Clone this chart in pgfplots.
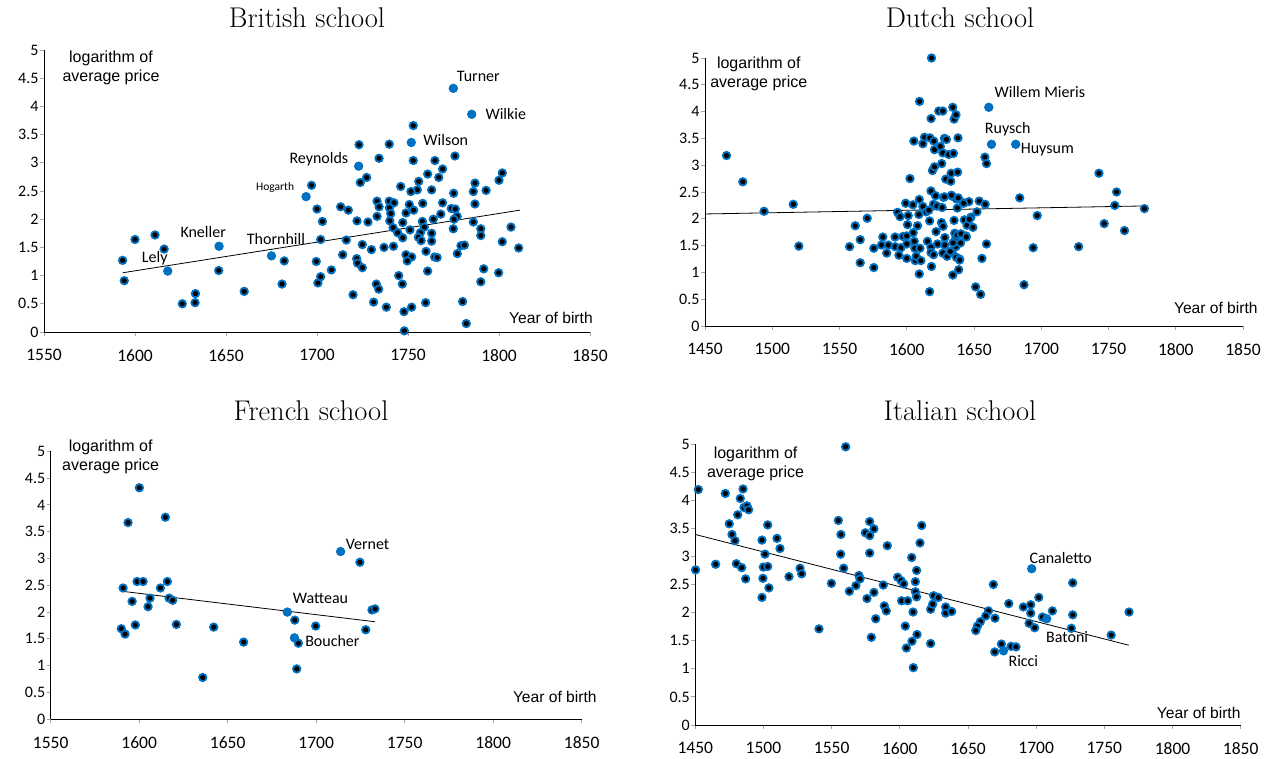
\documentclass[border=0pt]{standalone}
\usepackage{fontspec}
\usepackage{pgfplots}
\pgfplotsset{compat=1.18}
\newfontfamily\calibri{Carlito}
\newfontfamily\arial{Liberation Sans}
\definecolor{xlblue}{RGB}{0,112,192}

% dot with black centre, and plain blue dot for named painters
\pgfdeclareplotmark{dotc}{%
  \pgfpathcircle{\pgfpointorigin}{4.7pt}\pgfsetfillcolor{xlblue}\pgfusepathqfill
  \pgfpathcircle{\pgfpointorigin}{2.6pt}\pgfsetfillcolor{black}\pgfusepathqfill}
\pgfdeclareplotmark{dotb}{%
  \pgfpathcircle{\pgfpointorigin}{4.7pt}\pgfsetfillcolor{xlblue}\pgfusepathqfill}

\pgfplotsset{
  school/.style={
    scale only axis, anchor=south west,
    axis x line=bottom, axis y line=left,
    axis line style={-, line width=0.9pt, black},
    ymin=0, ymax=5, ytick={0,0.5,...,5}, xmax=1850, xtick distance=50,
    tick align=outside, major tick length=4pt,
    tick style={gray!70, line width=0.8pt},
    yticklabel style={font=\calibri\fontsize{16}{18}\selectfont, xshift=2pt},
    xticklabel style={font=\calibri\fontsize{17.5}{20}\selectfont, yshift=-10pt},
    scaled ticks=false,
    /pgf/number format/1000 sep={},
    /pgf/number format/assume math mode=true,
    clip=false,
  },
  reg/.style={black, line width=0.8pt, no marks},
}
\tikzset{
  lab/.style={anchor=west, inner sep=0pt, font=\calibri\fontsize{16}{19}\selectfont},
  ylab/.style={align=center, inner sep=0pt, font=\arial\fontsize{16}{19}\selectfont},
  xlab/.style={anchor=east, inner sep=0pt, font=\arial\fontsize{15.6}{18}\selectfont},
  ttl/.style={anchor=base, font=\fontsize{28.5}{34}\selectfont},
}

\begin{document}
\begin{tikzpicture}
\useasboundingbox (0,0) rectangle (1271pt,759pt);

\node[ttl] at (307pt,731pt) {British school};
\node[ttl] at (960pt,731pt) {Dutch school};
\node[ttl] at (311pt,338pt) {French school};
\node[ttl] at (960pt,338pt) {Italian school};

% British
\begin{axis}[school, at={(44pt,427pt)}, width=546pt, height=282pt, xmin=1550]
\addplot[only marks, mark=dotc] coordinates {
(1593.2,1.27)(1594.1,0.91)(1600,1.64)(1611,1.72)(1616,1.47)(1626,0.50)(1633.2,0.68)(1633,0.52)
(1646,1.09)(1660,0.72)(1680.8,0.85)(1682,1.26)(1697,2.60)(1700,2.18)(1699.6,1.25)(1700.5,0.87)
(1752.9,3.66)(1723.1,3.32)(1739.7,3.33)(1734.1,3.08)(1752.9,3.04)(1764.8,3.04)(1775.8,3.12)
(1760.8,2.80)(1769.0,2.89)(1766.9,2.74)(1801.8,2.82)(1800,2.69)(1727.3,2.74)(1723.8,2.65)
(1746,2.58)(1755.9,2.67)(1755.1,2.52)(1751.6,2.49)(1763,2.52)(1775.1,2.46)(1786.8,2.64)
(1785.9,2.49)(1792.9,2.51)(1786.8,2.27)(1733,2.32)(1734.1,2.22)(1739.7,2.32)(1742.3,2.29)
(1739.8,2.20)(1740.5,2.10)(1750.7,2.26)(1753.1,2.16)(1758.1,2.28)(1748.9,2.11)(1769,2.29)
(1773.8,2.19)(1776,2.18)(1768,2.09)(1777,2.05)(1775.3,2.00)(1774.9,1.83)(1713,2.22)
(1717.2,2.16)(1703,1.96)(1722,1.97)(1728,1.95)(1733,2.05)(1740,1.97)(1741.8,1.85)(1744.3,1.76)
(1747.1,1.94)(1751.1,1.81)(1757.9,1.96)(1759,1.86)(1756.8,1.76)(1755.7,1.68)(1757.2,1.62)
(1763,1.75)(1763,1.61)(1763.9,2.00)(1785.9,1.95)(1790,1.83)(1790,1.71)(1806.6,1.86)
(1801.8,1.60)(1810.8,1.49)(1747.1,1.67)(1702,1.64)(1716.1,1.63)(1724.9,1.55)(1729.9,1.46)
(1736.8,1.50)(1742,1.52)(1759.9,1.43)(1779.1,1.53)(1781,1.54)(1777.1,1.39)(1714.1,1.37)
(1721.8,1.30)(1722.3,1.22)(1724.9,1.14)(1748.9,1.37)(1752,1.33)(1749.6,1.26)(1764.6,1.33)
(1766,1.32)(1707.9,1.10)(1760.8,1.08)(1791.6,1.12)(1799.8,1.05)(1744.9,1.00)(1746.9,0.85)
(1732.6,0.85)(1733.9,0.76)(1702,0.98)(1790,0.89)(1719.8,0.66)(1731.1,0.53)(1738.1,0.44)
(1747.8,0.36)(1752,0.44)(1759.7,0.52)(1780,0.54)(1782,0.15)(1748,0.02)
};
\addplot[only marks, mark=dotb] coordinates {
(1774.9,4.32)(1785,3.86)(1751.8,3.36)(1722.9,2.94)(1694,2.40)(1646.2,1.52)(1675,1.35)(1618,1.08)
};
\addplot[reg] coordinates {(1593.2,1.05)(1811.5,2.16)};
\node[lab] at (axis cs:1776.8,4.54) {Turner};
\node[lab] at (axis cs:1792.5,3.86) {Wilkie};
\node[lab] at (axis cs:1758.4,3.40) {Wilson};
\node[lab] at (axis cs:1684.8,3.07) {Reynolds};
\node[lab, font=\calibri\fontsize{11.5}{13}\selectfont] at (axis cs:1666.5,2.56) {Hogarth};
\node[lab] at (axis cs:1624.9,1.77) {Kneller};
\node[lab] at (axis cs:1661.4,1.65) {Thornhill};
\node[lab] at (axis cs:1603.7,1.30) {Lely};
\node[ylab] at (axis cs:1586.8,4.69) {logarithm of\\average price};
\node[xlab] at (axis cs:1851.6,0.25) {Year of birth};
\end{axis}

% Dutch
\begin{axis}[school, at={(705pt,433pt)}, width=538pt, height=268pt, xmin=1450]
\addplot[only marks, mark=dotc] coordinates {
(1466.0,3.18)(1478.1,2.69)(1493.9,2.14)(1515.6,2.27)(1519.8,1.49)(1557.5,1.48)(1561.7,1.87)
(1565.4,1.61)(1565.4,1.18)(1570.6,2.01)(1575.5,1.45)(1575.5,1.09)(1582.2,1.66)(1581.2,1.51)
(1585.1,1.36)(1586.3,1.51)(1591.3,1.66)(1591.3,1.48)(1593.2,2.12)(1595,2.04)(1594.2,1.32)
(1595.7,1.46)(1597.2,1.67)(1599.2,2.29)(1600,1.68)(1600,1.53)(1600,1.26)(1600.6,1.89)
(1601.1,2.06)(1602.4,2.75)(1604.6,2.26)(1604.8,1.74)(1605.6,1.58)(1606,1.45)(1606.3,1.22)
(1607,1.30)(1608,1.87)(1609,2.08)(1609.5,4.19)(1609.3,0.97)(1609.3,2.36)(1609.8,1.45)
(1610.5,1.22)(1612,2.23)(1605.3,3.45)(1613.2,3.52)(1612,3.40)(1614.4,2.13)(1615.4,1.58)
(1616.4,2.16)(1617,1.96)(1618.4,5.00)(1618.1,3.87)(1617.2,3.51)(1618,2.52)(1617,0.64)
(1618,1.47)(1618,1.37)(1618.4,1.11)(1619.1,2.90)(1620.1,3.45)(1620.6,3.29)(1620.6,2.97)
(1619.9,2.27)(1619.9,1.33)(1621.4,2.43)(1622.4,2.24)(1621.8,1.76)(1622.9,1.53)(1623.8,4.01)
(1625,3.35)(1626,3.03)(1626.8,4.01)(1626.8,3.23)(1626.3,2.21)(1625.8,1.93)(1627,1.86)
(1626.8,1.36)(1627.3,2.40)(1628,3.50)(1629,2.74)(1628.3,1.65)(1628.3,1.51)(1631.2,3.20)
(1632.7,2.70)(1633,2.85)(1633.9,2.42)(1633.7,1.37)(1634.2,0.95)(1634.2,4.08)(1635.2,3.86)
(1635.2,1.97)(1634.7,3.22)(1635.7,1.73)(1636.1,1.61)(1636.6,3.94)(1636.9,2.37)(1636.9,1.28)
(1638.1,3.51)(1637.8,2.87)(1638.6,1.05)(1637.6,2.20)(1636.6,1.48)
(1658.1,3.15)(1659.3,3.03)(1742.9,2.85)(1756,2.50)(1754.7,2.25)(1776.7,2.19)(1746.8,1.91)
(1761.9,1.78)(1727.8,1.48)(1694,1.46)(1697,2.06)(1684,2.39)(1687.2,0.77)(1659.3,1.53)
(1655.9,1.26)(1651.2,0.73)(1654.9,0.59)(1639.3,1.25)(1640,1.55)(1644,1.68)(1642.8,1.98)
(1644.8,1.88)(1647.7,2.03)(1649.2,1.84)(1652.2,2.13)(1653.9,2.33)(1658.3,2.27)(1646.2,2.32)
(1641.8,2.30)(1629.5,3.48)(1634.4,1.55)(1630,1.30)(1633.2,2.44)(1638.3,2.39)(1642.3,2.29)
(1628,2.41)(1646.5,1.99)(1637.4,1.70)(1640.3,1.72)(1644.3,1.66)(1632.4,1.39)(1639.3,1.23)
};
\addplot[only marks, mark=dotb] coordinates {(1661,4.08)(1663,3.39)(1681,3.39)};
\addplot[reg] coordinates {(1450,2.09)(1777.2,2.24)};
\node[lab] at (axis cs:1665.2,4.37) {Willem Mieris};
\node[lab] at (axis cs:1658,3.68) {Ruysch};
\node[lab] at (axis cs:1684.7,3.29) {Huysum};
\node[ylab] at (axis cs:1490,4.705) {logarithm of\\average price};
\node[xlab] at (axis cs:1861,0.33) {Year of birth};
\end{axis}

% French
\begin{axis}[school, at={(50.7pt,39.7pt)}, width=531pt, height=268pt, xmin=1550]
\addplot[only marks, mark=dotc] coordinates {
(1590.9,2.45)(1589.9,1.69)(1592,1.59)(1593.7,3.67)(1596,2.20)(1597.8,1.76)(1598.8,2.57)
(1600.1,4.32)(1602.2,2.57)(1605,2.10)(1606.1,2.26)(1612,2.45)(1614.8,3.77)(1615.9,2.57)
(1616.9,2.26)(1618.9,2.22)(1621,1.77)(1635.9,0.78)(1642.1,1.72)(1659,1.44)(1687.9,1.85)
(1689.9,1.42)(1689,0.94)(1699.7,1.74)(1724.7,2.93)(1731.5,2.04)(1733.2,2.06)(1728,1.67)
};
\addplot[only marks, mark=dotb] coordinates {(1683.7,2.00)(1687.7,1.52)(1713.8,3.13)};
\addplot[reg] coordinates {(1590,2.39)(1733.2,1.82)};
\node[lab] at (axis cs:1716.6,3.27) {Vernet};
\node[lab] at (axis cs:1686.7,2.25) {Watteau};
\node[lab] at (axis cs:1693.7,1.47) {Boucher};
\node[ylab] at (axis cs:1583.9,4.89) {logarithm of\\average price};
\node[xlab] at (axis cs:1858.5,0.42) {Year of birth};
\end{axis}

% Italian
\begin{axis}[school, at={(695.3pt,34pt)}, width=545.4pt, height=281pt, xmin=1450]
\addplot[only marks, mark=dotc] coordinates {
(1450.2,2.76)(1452.2,4.19)(1464.9,2.86)(1472,4.12)(1474.9,3.58)(1476.9,3.39)(1479.1,3.28)
(1480.1,2.87)(1481.1,3.74)(1483,4.03)(1484,2.80)(1485,4.20)(1485.7,3.87)(1487.9,3.90)
(1489.1,3.83)(1486.9,2.60)(1498.9,2.27)(1498.9,3.29)(1499.6,2.61)(1499.9,2.81)(1501.1,3.04)
(1503.1,3.56)(1503.1,2.82)(1504,2.44)(1509.9,3.32)(1512.1,3.14)(1518.7,2.64)(1526.8,2.79)
(1528,2.69)(1540.7,1.71)(1549.8,2.52)(1554.9,3.64)(1556.8,3.39)(1556.6,3.04)(1558.8,2.79)
(1560.3,4.95)(1563,2.38)(1567.8,2.48)(1570,2.66)(1570.8,2.60)(1575.9,2.25)(1574.7,3.42)
(1577.9,3.62)(1577.9,3.37)(1577.9,3.06)(1581,3.49)(1581,2.36)(1579.1,1.56)(1582.3,1.89)
(1587.9,2.49)(1588.6,2.12)(1590.1,2.03)(1590.8,3.19)(1598.4,2.63)(1600.9,2.57)(1602.8,2.51)
(1601.3,2.21)(1604,1.76)(1604.8,1.37)(1605.7,2.21)(1608.7,2.98)(1608.9,1.49)(1609.7,2.01)
(1609.9,1.02)(1611.4,2.55)(1611.4,2.37)(1612.3,2.75)(1612.3,2.28)(1612.6,1.61)(1614.8,3.24)
(1616,3.55)(1622.6,2.06)(1622.6,1.45)(1624.1,2.15)(1624.8,2.30)(1628.2,2.27)(1633.6,2.10)
(1633.6,1.99)(1638,2.02)
(1668.6,2.50)(1665,2.03)(1663,1.94)(1659.1,1.84)(1656.9,1.76)(1655.7,1.68)(1669.8,1.90)
(1679.9,2.16)(1690.6,2.10)(1696,2.14)(1696,1.99)(1701.9,2.27)(1694.8,1.81)(1698.9,1.73)
(1704.6,1.92)(1711.9,2.03)(1726.8,2.53)(1726.8,1.96)(1725.8,1.72)(1755,1.60)(1768.1,2.01)
(1674.5,1.44)(1681.6,1.40)(1685.2,1.39)(1669.6,1.30)
};
\addplot[only marks, mark=dotb] coordinates {(1696.7,2.78)(1676,1.32)(1707.7,1.89)};
\addplot[reg] coordinates {(1450,3.39)(1767.9,1.42)};
\node[lab] at (axis cs:1695,2.98) {Canaletto};
\node[lab] at (axis cs:1707.2,1.57) {Batoni};
\node[lab] at (axis cs:1679.6,1.14) {Ricci};
\node[ylab] at (axis cs:1494.2,4.65) {logarithm of\\average price};
\node[xlab] at (axis cs:1850,0.21) {Year of birth};
\end{axis}
\end{tikzpicture}
\end{document}
